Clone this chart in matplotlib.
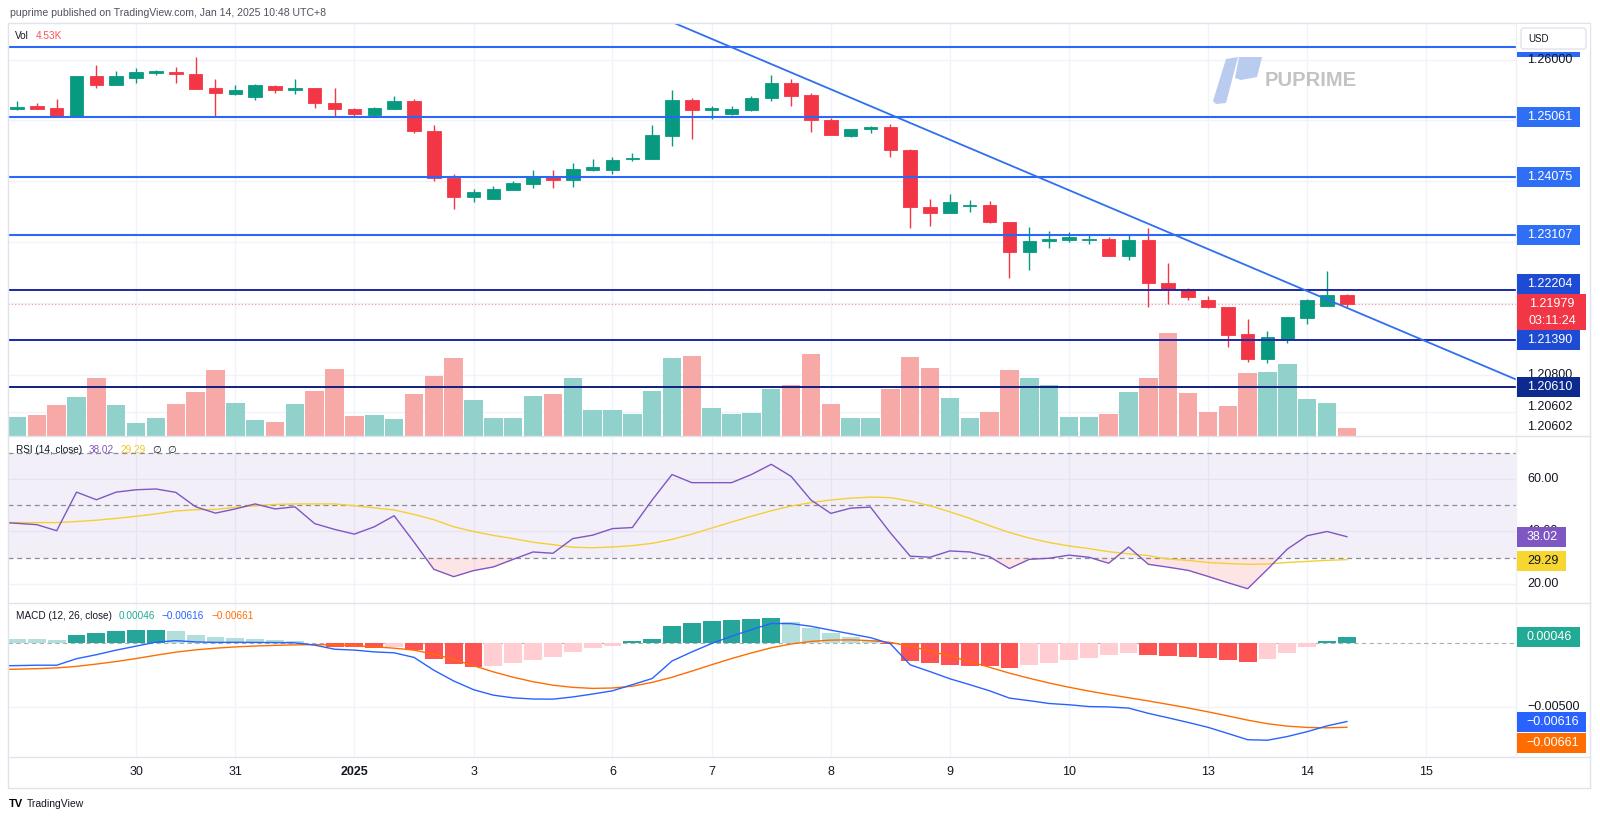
import numpy as np
import matplotlib
matplotlib.use('Agg')
import matplotlib.pyplot as plt
import matplotlib.transforms as mtrans
from matplotlib.patches import Rectangle, Polygon, FancyBboxPatch

plt.rcParams['font.family'] = ['Liberation Sans', 'DejaVu Sans']

# ---------------- data (4H candles, index 0..67) ----------------
opens = [1.25183, 1.25232, 1.25199, 1.25061, 1.25731, 1.25583, 1.25698, 1.25786, 1.25802, 1.25764,
         1.25529, 1.25440, 1.25380, 1.25571, 1.25496, 1.25529, 1.25287, 1.25188, 1.25094, 1.25193,
         1.25315, 1.24826, 1.24052, 1.23734, 1.23701, 1.23859, 1.23958, 1.24085, 1.24019, 1.24188,
         1.24188, 1.24360, 1.24365, 1.24748, 1.25331, 1.25176, 1.25110, 1.25176, 1.25364, 1.25621,
         1.25418, 1.25002, 1.24748, 1.24854, 1.24886, 1.24513, 1.23579, 1.23470, 1.23586, 1.23607,
         1.23327, 1.22828, 1.23019, 1.23026, 1.23031, 1.23042, 1.22767, 1.23031, 1.22323, 1.22224,
         1.22043, 1.21927, 1.21483, 1.21066, 1.21401, 1.21751, 1.21949, 1.22125]
highs = [1.25320, 1.25287, 1.25348, 1.25731, 1.25912, 1.25818, 1.25863, 1.25835, 1.25874, 1.26049,
         1.25677, 1.25578, 1.25595, 1.25588, 1.25687, 1.25529, 1.25529, 1.25209, 1.25221, 1.25402,
         1.25348, 1.24924, 1.24118, 1.23870, 1.23925, 1.23997, 1.24188, 1.24183, 1.24299, 1.24360,
         1.24397, 1.24458, 1.24924, 1.25501, 1.25374, 1.25237, 1.25237, 1.25402, 1.25753, 1.25682,
         1.25446, 1.25045, 1.24859, 1.24913, 1.24941, 1.24529, 1.23706, 1.23783, 1.23685, 1.23668,
         1.23327, 1.23245, 1.23179, 1.23167, 1.23113, 1.23085, 1.23118, 1.23233, 1.22647, 1.22235,
         1.22109, 1.21927, 1.21730, 1.21537, 1.21758, 1.22054, 1.22525, 1.22142]
lows = [1.25171, 1.25188, 1.25073, 1.25061, 1.25539, 1.25583, 1.25611, 1.25743, 1.25611, 1.25522,
        1.25073, 1.25413, 1.25336, 1.25456, 1.25430, 1.25209, 1.25073, 1.25073, 1.25073, 1.25193,
        1.24798, 1.24007, 1.23536, 1.23656, 1.23701, 1.23859, 1.23892, 1.23892, 1.23903, 1.24172,
        1.24118, 1.24332, 1.24365, 1.24574, 1.24699, 1.25028, 1.25084, 1.25160, 1.25320, 1.25237,
        1.24804, 1.24765, 1.24727, 1.24788, 1.24397, 1.23223, 1.23266, 1.23470, 1.23492, 1.23316,
        1.22410, 1.22537, 1.22894, 1.22993, 1.22970, 1.22772, 1.22696, 1.21932, 1.21982, 1.22043,
        1.21906, 1.21274, 1.21017, 1.21000, 1.21330, 1.21648, 1.21949, 1.21932]
closes = [1.25226, 1.25193, 1.25073, 1.25731, 1.25583, 1.25731, 1.25792, 1.25809, 1.25759, 1.25522,
          1.25446, 1.25501, 1.25578, 1.25496, 1.25529, 1.25287, 1.25193, 1.25110, 1.25204, 1.25315,
          1.24826, 1.24052, 1.23734, 1.23821, 1.23866, 1.23969, 1.24085, 1.24024, 1.24200, 1.24228,
          1.24353, 1.24381, 1.24755, 1.25331, 1.25166, 1.25204, 1.25188, 1.25374, 1.25621, 1.25407,
          1.25002, 1.24765, 1.24859, 1.24886, 1.24508, 1.23579, 1.23470, 1.23652, 1.23607, 1.23332,
          1.22828, 1.23014, 1.23042, 1.23085, 1.23052, 1.22772, 1.23031, 1.22328, 1.22229, 1.22087,
          1.21923, 1.21471, 1.21066, 1.21429, 1.21758, 1.22043, 1.22125, 1.21979]
volumes_k = [10.4, 11.5, 16.8, 21.3, 31.8, 16.9, 7.1, 10.0, 17.6, 23.9,
             36.2, 18.0, 8.6, 7.6, 17.5, 24.6, 36.6, 10.9, 11.5, 9.1,
             22.9, 32.8, 42.8, 19.7, 10.0, 10.0, 21.8, 22.9, 31.8, 14.2,
             14.2, 12.0, 24.6, 42.4, 43.7, 15.3, 12.0, 12.6, 25.7, 27.8,
             44.8, 17.6, 9.8, 9.8, 25.7, 43.3, 37.1, 20.9, 9.8, 12.9,
             36.2, 31.8, 27.7, 10.4, 10.4, 12.0, 23.9, 31.8, 56.2, 23.5,
             12.9, 16.5, 34.4, 34.8, 39.1, 20.4, 18.0, 4.53]
# indicator series start one bar before the first visible candle (index -1)
rsi = [43.6, 43.1, 42.6, 40.3, 55.0, 52.1, 55.0, 55.9, 56.2, 54.9, 49.4,
       47.0, 48.6, 50.5, 48.6, 49.4, 43.0, 40.8, 39.0, 41.8, 46.0,
       36.0, 25.6, 22.8, 25.1, 26.5, 29.4, 32.2, 31.7, 37.3, 38.6,
       41.1, 41.5, 52.0, 61.7, 58.6, 58.6, 58.6, 61.7, 65.6, 61.0,
       52.0, 46.9, 48.9, 49.3, 39.5, 30.6, 30.2, 32.6, 32.2, 30.4,
       25.9, 29.4, 29.8, 31.0, 30.2, 27.9, 34.1, 27.5, 26.4, 25.2,
       22.9, 20.5, 18.2, 25.6, 33.3, 38.4, 40.0, 38.02]
rsi_ma = [43.4, 43.4, 43.4, 43.4, 43.8, 44.3, 45.0, 45.8, 46.7, 47.8, 48.3,
          48.4, 49.2, 49.8, 50.3, 50.5, 50.5, 50.5, 49.8, 49.0, 48.2,
          46.5, 44.5, 41.8, 40.0, 38.5, 37.3, 35.9, 35.0, 34.0, 33.8,
          34.1, 34.6, 35.5, 37.0, 39.0, 41.3, 43.6, 45.8, 47.9, 49.7,
          51.0, 52.0, 52.7, 53.1, 52.9, 51.6, 49.8, 47.5, 45.0, 42.2,
          39.6, 37.5, 35.8, 34.5, 33.5, 32.3, 31.5, 30.8, 29.5, 29.0,
          28.2, 27.8, 27.5, 27.6, 28.2, 28.6, 29.0, 29.29]
macd = [-0.00181, -0.00179, -0.00176, -0.00176, -0.00125, -0.00094, -0.00058, -0.00027, 0.00004, 0.00016, 0.00006,
        0.00002, 0.00003, 0.00002, 0.00001, -0.00001, -0.00019, -0.00051, -0.00058, -0.00072, -0.00079,
        -0.00115, -0.00215, -0.00299, -0.00367, -0.00410, -0.00431, -0.00440, -0.00441, -0.00424, -0.00401,
        -0.00376, -0.00328, -0.00280, -0.00143, -0.00072, -0.00006, 0.00050, 0.00102, 0.00150, 0.00149,
        0.00128, 0.00098, 0.00069, 0.00039, -0.00008, -0.00173, -0.00226, -0.00282, -0.00328, -0.00376,
        -0.00433, -0.00453, -0.00475, -0.00485, -0.00499, -0.00502, -0.00511, -0.00552, -0.00587, -0.00623,
        -0.00661, -0.00709, -0.00758, -0.00762, -0.00733, -0.00695, -0.00650, -0.00616]
signal = [-0.00210, -0.00207, -0.00203, -0.00197, -0.00185, -0.00167, -0.00147, -0.00124, -0.00098, -0.00074, -0.00056,
          -0.00043, -0.00033, -0.00026, -0.00021, -0.00017, -0.00015, -0.00018, -0.00024, -0.00032, -0.00043,
          -0.00058, -0.00090, -0.00130, -0.00180, -0.00228, -0.00270, -0.00305, -0.00332, -0.00349, -0.00357,
          -0.00354, -0.00340, -0.00310, -0.00270, -0.00222, -0.00172, -0.00124, -0.00080, -0.00040, -0.00010,
          0.00010, 0.00020, 0.00022, 0.00016, 0.00002, -0.00028, -0.00065, -0.00105, -0.00148, -0.00192,
          -0.00238, -0.00278, -0.00315, -0.00348, -0.00378, -0.00405, -0.00430, -0.00455, -0.00482, -0.00510,
          -0.00540, -0.00572, -0.00605, -0.00633, -0.00652, -0.00662, -0.00665, -0.00661]
hist = [0.00028, 0.00027, 0.00021, 0.00060, 0.00073, 0.00089, 0.00097, 0.00102, 0.00090, 0.00062,
        0.00045, 0.00036, 0.00028, 0.00022, 0.00016, -0.00004, -0.00033, -0.00034, -0.00040, -0.00036,
        -0.00057, -0.00125, -0.00169, -0.00187, -0.00182, -0.00161, -0.00135, -0.00109, -0.00075, -0.00044,
        -0.00022, 0.00012, 0.00030, 0.00127, 0.00150, 0.00166, 0.00174, 0.00182, 0.00190, 0.00159,
        0.00118, 0.00078, 0.00047, 0.00023, -0.00010, -0.00145, -0.00161, -0.00177, -0.00180, -0.00184,
        -0.00195, -0.00175, -0.00160, -0.00137, -0.00121, -0.00097, -0.00081, -0.00097, -0.00105, -0.00113,
        -0.00121, -0.00137, -0.00153, -0.00129, -0.00081, -0.00033, 0.00015, 0.00046]

tick_idx = [6, 11, 17, 23, 30, 35, 41, 47, 53, 60, 65, 71]
tick_lbl = ['30', '31', '2025', '3', '6', '7', '8', '9', '10', '13', '14', '15']

level_bright = [1.26204, 1.25061, 1.24075, 1.23107]
level_dark = [1.22204, 1.21390]
level_navy = [1.20610]
trend_x = [33.11, 75.52]
trend_y = [1.26604, 1.20734]
price_grid = [1.26, 1.25, 1.24, 1.23, 1.22, 1.208, 1.2020]
price_axis_labels = [(1.23000, '1.23000'), (1.20800, '1.20800'),
                     (1.20281, '1.20602'), (1.19952, '1.20602')]
rsi_ticks = [60, 40, 20]
macd_ticks = [-0.005]
vol_last = '4.53K'
countdown = '03:11:24'

# ---------------- layout ----------------
W, H = 1600, 819
fig = plt.figure(figsize=(W / 100, H / 100), dpi=100)
fig.patch.set_facecolor('white')

PX_L, PX_R = 8, 1516
MAIN_T, MAIN_B, RSI_B, MACD_B = 23, 436, 603, 757
XLIM = (-0.453, 75.52)
VOL_TOP = 225.5  # K at top of main pane


def rect(top, bot):
    return [PX_L / W, 1 - bot / H, (PX_R - PX_L) / W, (bot - top) / H]


ax = fig.add_axes(rect(MAIN_T, MAIN_B), zorder=2)
ax_rsi = fig.add_axes(rect(MAIN_B, RSI_B), zorder=2)
ax_macd = fig.add_axes(rect(RSI_B, MACD_B), zorder=2)
for a in (ax, ax_rsi, ax_macd):
    a.set_xlim(*XLIM)
    a.set_xticks([]); a.set_yticks([])
    for s in a.spines.values():
        s.set_visible(False)
    a.set_facecolor('none')
ax.set_ylim(1.19803, 1.26604)
ax_rsi.set_ylim(12.76, 76.38)
ax_macd.set_ylim(-0.00893, 0.0031)

ov = fig.add_axes([0, 0, 1, 1], zorder=5)
ov.set_xlim(0, W); ov.set_ylim(H, 0); ov.axis('off')

GRID = '#f0f3fa'
x = np.arange(len(closes))
xi = np.arange(-1, len(closes))  # indicator x (one leading bar)
o = np.array(opens); c = np.array(closes); hi = np.array(highs); lo = np.array(lows)

# grids
for a in (ax, ax_rsi, ax_macd):
    for t in tick_idx:
        a.axvline(t, color=GRID, lw=1, zorder=0)
for g in price_grid:
    ax.axhline(g, color=GRID, lw=1, zorder=0)
for g in rsi_ticks:
    ax_rsi.axhline(g, color=GRID, lw=1, zorder=0)
for g in macd_ticks:
    ax_macd.axhline(g, color=GRID, lw=1, zorder=0)

# volume (overlay scale in axes fraction)
blend = mtrans.blended_transform_factory(ax.transData, ax.transAxes)
up = c >= o
for i in range(len(x)):
    ax.add_patch(Rectangle((x[i] - 0.465, 0), 0.93, volumes_k[i] / VOL_TOP, transform=blend,
                           fc='#91d1cb' if up[i] else '#f7a9a7', ec='none', zorder=1))

# candles
col = np.where(up, '#089981', '#f23645')
ax.vlines(x, lo, hi, colors=col, lw=1.0, zorder=3)
body = np.maximum(np.abs(c - o), 0.00012)
ax.bar(x, body, bottom=np.minimum(o, c), width=0.68, color=col, edgecolor=col, lw=0.6, zorder=4)

# levels, trend line, last price
for lv in level_bright:
    ax.axhline(lv, color='#2a68f5', lw=1.5, zorder=5)
for lv in level_dark:
    ax.axhline(lv, color='#1a28a8', lw=1.4, zorder=5)
for lv in level_navy:
    ax.axhline(lv, color='#101f7a', lw=1.4, zorder=5)
ax.plot(trend_x, trend_y, color='#2f6ff0', lw=1.3, zorder=5, solid_capstyle='butt')
ax.axhline(closes[-1], color='#f23645', lw=0.8, ls=(0, (1, 2)), alpha=0.55, zorder=2)

# RSI
r = np.array(rsi)
ax_rsi.axhspan(30, 70, color='#7e57c2', alpha=0.09, lw=0, zorder=0)
for lv in (70, 50, 30):
    ax_rsi.axhline(lv, color='#8a8d96', lw=0.9, ls=(0, (4, 3)), zorder=1)
ax_rsi.fill_between(xi, r, 30, where=r < 30, interpolate=True, color='#f23645', alpha=0.13, lw=0, zorder=1)
ax_rsi.plot(xi, rsi_ma, color='#f5cf35', lw=1.0, zorder=3)
ax_rsi.plot(xi, r, color='#7e57c2', lw=1.0, zorder=4)

# MACD
hst = np.array(hist)
hcol = []
for i, v in enumerate(hst):
    prev = hst[i - 1] if i > 0 else v
    if v >= 0:
        hcol.append('#26a69a' if v > prev else '#b2dfdb')
    else:
        hcol.append('#ffcdd2' if v > prev else '#ff5252')
ax_macd.axhline(0, color='#8a8d96', lw=0.8, ls=(0, (4, 3)), alpha=0.7, zorder=1)
ax_macd.bar(x, hst, width=0.9, color=hcol, lw=0, zorder=2)
ax_macd.plot(xi, signal, color='#ff6d00', lw=1.0, zorder=3)
ax_macd.plot(xi, macd, color='#2962ff', lw=1.0, zorder=4)


# ---------------- overlay helpers ----------------
def ypx(a, v):
    return H - a.transData.transform((0, v))[1]


def xpx(a, v):
    return a.transData.transform((v, 0))[0]


FS = 9
HFS = 7.2
TXT = '#131722'


def vbox(a, val, txt, fc, tc='white', dy=0, w=63, h=20):
    y = ypx(a, val) + dy
    ov.add_patch(Rectangle((1517, y - h / 2), w, h, fc=fc, ec='none', zorder=6))
    ov.text(1517 + w / 2 + 1, y, txt, color=tc, fontsize=FS, ha='center', va='center', zorder=7)


def fmt(v):
    return ('%.5f' % v).replace('-', '\u2212')


# frame
ov.add_patch(Rectangle((8, 23), 1582, 765, fill=False, ec='#e0e3eb', lw=1, zorder=1))
for yy in (MAIN_B, RSI_B, MACD_B):
    ov.plot([8, 1590], [yy, yy], color='#e0e3eb', lw=1, zorder=1)
ov.plot([PX_R, PX_R], [23, MACD_B], color='#eef0f4', lw=1, zorder=1)

# header texts
ov.text(10, 13, 'puprime published on TradingView.com, Jan 14, 2025 10:48 UTC+8',
        fontsize=7.6, color='#50535e', va='center')
ov.text(15, 36, 'Vol', fontsize=HFS, color=TXT, va='center')
ov.text(36, 36, vol_last, fontsize=HFS, color='#f7525f', va='center')

ov.text(16, 450, 'RSI (14, close)', fontsize=HFS, color=TXT, va='center')
ov.text(89, 450, '%.2f' % rsi[-1], fontsize=HFS, color='#7e57c2', va='center')
ov.text(120, 450, '%.2f' % rsi_ma[-1], fontsize=HFS, color='#f2c624', va='center')
ov.text(152, 450, '\u2205', fontsize=HFS, color=TXT, va='center', family=['DejaVu Sans'])
ov.text(167, 450, '\u2205', fontsize=HFS, color=TXT, va='center', family=['DejaVu Sans'])

ov.text(16, 616, 'MACD (12, 26, close)', fontsize=HFS, color=TXT, va='center')
ov.text(119, 616, '%.5f' % hist[-1], fontsize=HFS, color='#22ab94', va='center')
ov.text(162, 616, fmt(macd[-1]), fontsize=HFS, color='#2962ff', va='center')
ov.text(211, 616, fmt(signal[-1]), fontsize=HFS, color='#ff6d00', va='center')

# watermark
ov.add_patch(Polygon([(1213, 101), (1226, 59), (1238, 57), (1226, 103), (1216, 104)],
                     closed=True, fc='#b9cbee', ec='none', zorder=0))
ov.add_patch(Polygon([(1239, 57), (1262, 57), (1257, 77), (1241, 80), (1235, 78)],
                     closed=True, fc='#b9cbee', ec='none', zorder=0))
ov.text(1265, 80, 'PUPRIME', fontsize=14.5, color='#c3c3c3', fontweight='bold', va='center')

# price axis text labels
for v, t in price_axis_labels:
    ov.text(1527, ypx(ax, v), t, fontsize=FS, color=TXT, va='center', zorder=3)

# hidden top level box + USD box
vbox(ax, level_bright[0], '%.5f' % level_bright[0], '#2a68f5')
ov.add_patch(Rectangle((1517, 24), 73, 28, fc='white', ec='none', zorder=8))
ov.add_patch(FancyBboxPatch((1521, 28), 65, 21, boxstyle='round,pad=0,rounding_size=3',
                            fc='white', ec='#e0e3eb', lw=1, zorder=9))
ov.text(1528, 38.5, 'USD', fontsize=7, color=TXT, va='center', zorder=10)
ov.text(1527, ypx(ax, 1.26000), '1.26000', fontsize=FS, color=TXT, va='center', zorder=10)

for lv in level_bright[1:]:
    vbox(ax, lv, '%.5f' % lv, '#2f6ff5')
vbox(ax, level_dark[0], '%.5f' % level_dark[0], '#1d4bd3', dy=-6)
vbox(ax, level_dark[1], '%.5f' % level_dark[1], '#1d4bd3')
vbox(ax, level_navy[0], '%.5f' % level_navy[0], '#0d2b8e')

# last price box
yl = ypx(ax, closes[-1])
ov.add_patch(Rectangle((1517, yl - 10), 69, 36, fc='#f23645', ec='none', zorder=6))
ov.text(1552, yl, '%.5f' % closes[-1], fontsize=FS, color='white', ha='center', va='center', zorder=7)
ov.text(1552, yl + 17, countdown, fontsize=FS, color='white', ha='center', va='center', zorder=7)

# RSI axis
for v in rsi_ticks:
    ov.text(1527, ypx(ax_rsi, v), '%.2f' % v, fontsize=FS, color=TXT, va='center', zorder=3)
vbox(ax_rsi, rsi[-1], '%.2f' % rsi[-1], '#7e57c2', w=49)
vbox(ax_rsi, rsi_ma[-1], '%.2f' % rsi_ma[-1], '#f7d631', tc=TXT, dy=1, w=49)

# MACD axis
for v in macd_ticks:
    ov.text(1527, ypx(ax_macd, v), fmt(v), fontsize=FS, color=TXT, va='center', zorder=3)
vbox(ax_macd, hist[-1], '%.5f' % hist[-1], '#22ab94')
vbox(ax_macd, macd[-1], fmt(macd[-1]), '#2962ff', w=69)
vbox(ax_macd, signal[-1], fmt(signal[-1]), '#ff6d00', dy=16, w=69)

# time axis
for t, lbl in zip(tick_idx, tick_lbl):
    ov.text(xpx(ax, t), 772, lbl, fontsize=FS, color=TXT, ha='center', va='center',
            fontweight='bold' if lbl == '2025' else 'normal')

# TradingView logo
ov.text(9, 804, 'TV', fontsize=8, color='black', fontweight='bold', va='center')
ov.text(27, 804, 'TradingView', fontsize=7.5, color=TXT, va='center')

fig.savefig('out.png', dpi=100, facecolor='white')
